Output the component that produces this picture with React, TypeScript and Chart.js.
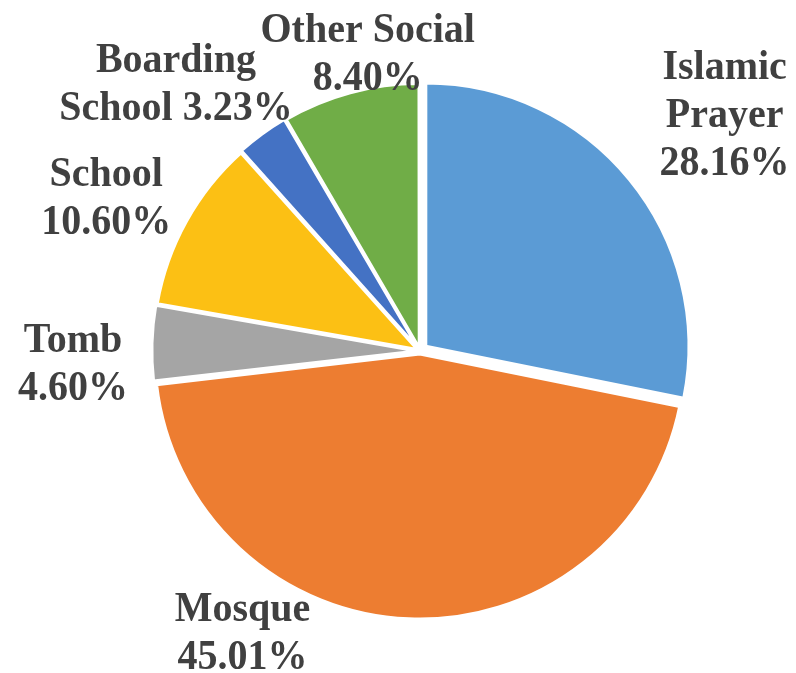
import React, { useEffect, useRef } from "react";
import { Chart, registerables } from "chart.js";

Chart.register(...registerables);

const categories = ["Islamic Prayer", "Mosque", "Tomb", "School", "Boarding School", "Other Social"];
const values = [28.16, 45.01, 4.6, 10.6, 3.23, 8.4];
const labelLines = [
  ["Islamic", "Prayer", "{v}"],
  ["Mosque", "{v}"],
  ["Tomb", "{v}"],
  ["School", "{v}"],
  ["Boarding", "School {v}"],
  ["Other Social", "{v}"],
];
const colors = ["#5B9BD5", "#ED7D31", "#A5A5A5", "#FCC014", "#4472C4", "#70AD47"];

// label layout relative to each slice: radial factor and angular shift (degrees)
const labelRadial = [1.47, 1.26, 1.32, 1.33, 1.38, 1.154];
const labelShift = [1.3, 30, -3.5, -2.8, -6.2, 5.2];

const FONT_SIZE = 40;
const LINE_H = 48;
const Y_STRETCH = 1.06;

const outsideLabels = {
  id: "outsideLabels",
  afterDatasetsDraw(chart: any) {
    const ctx = chart.ctx;
    const meta = chart.getDatasetMeta(0);
    ctx.save();
    ctx.font = `bold ${FONT_SIZE}px "Liberation Serif", "Times New Roman", serif`;
    ctx.fillStyle = "#404040";
    ctx.textAlign = "center";
    ctx.textBaseline = "alphabetic";
    meta.data.forEach((arc: any, i: number) => {
      const mid = (arc.startAngle + arc.endAngle) / 2 + (labelShift[i] * Math.PI) / 180;
      const r = arc.outerRadius * labelRadial[i];
      const x = arc.x + Math.cos(mid) * r;
      const y = arc.y + Math.sin(mid) * r;
      const lines = labelLines[i].map((l) => l.replace("{v}", values[i].toFixed(2) + "%"));
      const capMid = FONT_SIZE * 0.35;
      const firstBase = y - ((lines.length - 1) * LINE_H) / 2 + capMid;
      lines.forEach((line, j) => {
        ctx.save();
        ctx.translate(x, firstBase + j * LINE_H);
        ctx.scale(1, Y_STRETCH);
        ctx.fillText(line, 0, 0);
        ctx.restore();
      });
    });
    ctx.restore();
  },
};

export default function App() {
  const ref = useRef<HTMLCanvasElement | null>(null);
  useEffect(() => {
    if (!ref.current) return;
    const chart = new Chart(ref.current, {
      type: "pie",
      data: {
        labels: categories,
        datasets: [
          {
            data: values,
            backgroundColor: colors,
            borderColor: "#FFFFFF",
            borderWidth: 3,
            offset: [30, 12, 12, 12, 12, 12],
            radius: 263,
          } as any,
        ],
      },
      options: {
        responsive: false,
        animation: false,
        devicePixelRatio: 1,
        layout: { padding: { left: 44, right: 0, top: 29, bottom: 0 } },
        plugins: {
          legend: { display: false },
          tooltip: { enabled: false },
        },
        events: [],
      } as any,
      plugins: [outsideLabels],
    });
    return () => chart.destroy();
  }, []);
  return (
    <div style={{ position: "absolute", left: 0, top: 0, width: 796, height: 673, background: "#fff" }}>
      <canvas ref={ref} width={796} height={673} />
    </div>
  );
}
